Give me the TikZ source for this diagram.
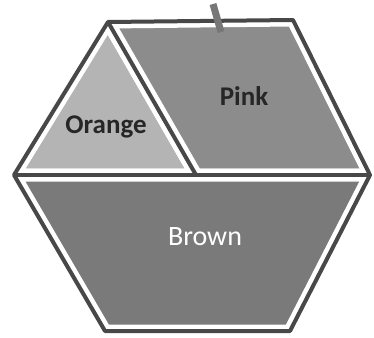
\documentclass[tikz,border=0pt]{standalone}
\usepackage{fontspec}
\setmainfont{Carlito}
\definecolor{blkEdge}{RGB}{72,72,72}
\definecolor{blkOrange}{RGB}{180,180,180}
\definecolor{blkPink}{RGB}{140,140,140}
\definecolor{blkBrown}{RGB}{122,122,122}

\begin{document}
\begin{tikzpicture}[
    x=1pt,y=-1pt,
    piece/.style={draw=white,line width=13pt,line join=round},
    edge/.style={draw=blkEdge,line width=4pt,line join=round},
    lbl/.style={font=\fontsize{27}{27}\selectfont\bfseries,text=black!85}
  ]
    \useasboundingbox (0,0) rectangle (374,337);
    \coordinate (tl) at (108,22);
    \coordinate (tr) at (293,20);
    \coordinate (r) at (370,175);
    \coordinate (br) at (290,331);
    \coordinate (bl) at (105,331);
    \coordinate (l) at (14,175);
    \coordinate (mid) at (196,175);
    % pieces
    \draw[piece,fill=blkOrange] (tl) -- (mid) -- (l) -- cycle;
    \draw[piece,fill=blkPink] (tl) -- (tr) -- (r) -- (mid) -- cycle;
    \draw[piece,fill=blkBrown] (l) -- (r) -- (br) -- (bl) -- cycle;
    % outlines
    \draw[edge] (tl) -- (tr) -- (r) -- (br) -- (bl) -- (l) -- cycle;
    \draw[edge] (l) -- (r);
    \draw[edge] (tl) -- (mid);
    \draw[blkPink!85!black,line width=7pt] (213,4) -- (221,32);
    % labels
    \node[lbl] (orange) at (106,127) {Orange};
    \node[lbl] (pink) at (244,96) {Pink};
    \node[lbl,font=\fontsize{28}{28}\selectfont,text=white] (brown) at (205,237) {Brown};
\end{tikzpicture}
\end{document}
